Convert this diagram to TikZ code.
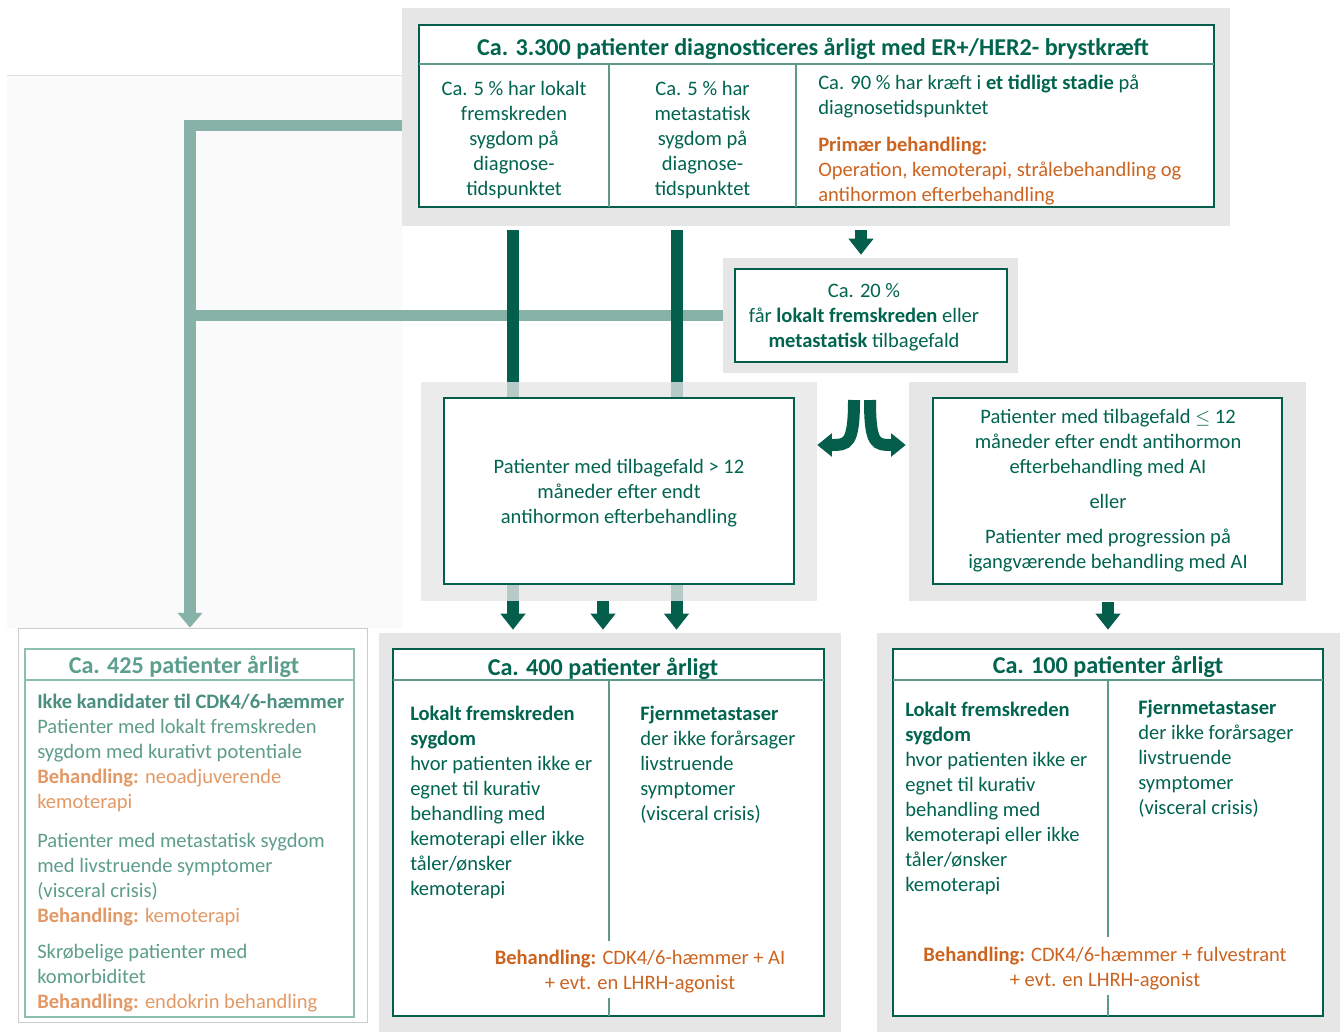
\documentclass[tikz,border=0pt]{standalone}
\usepackage{fontspec}
\setmainfont{Carlito}
\usetikzlibrary{arrows.meta,fit}
\definecolor{dg}{HTML}{00644F}
\definecolor{ag}{HTML}{035E4B}
\definecolor{lg}{HTML}{86B2A7}
\definecolor{gbox}{HTML}{E6E6E6}
\definecolor{org}{HTML}{CC6420}
\definecolor{ltitle}{HTML}{5C9F8D}
\definecolor{ltext}{HTML}{5E9D8C}
\definecolor{lbold}{HTML}{4B907F}
\definecolor{lorg}{HTML}{E39966}
\definecolor{lborder}{HTML}{8EBDB1}
\definecolor{divc}{HTML}{5E9A8B}
\begin{document}
\begin{tikzpicture}[x=0.75pt,y=-0.75pt,
  outerbox/.style={fill=gbox, draw=none, inner sep=0pt},
  innerbox/.style={fill=white, draw=ag, line width=1.3pt, inner sep=0pt},
  divider/.style={draw=divc, line width=0.9pt},
  body/.style={font=\fontsize{15.4}{18.75}\selectfont, text=dg, inner sep=0pt},
  head/.style={font=\fontsize{18.1}{22}\selectfont\bfseries, text=dg, inner sep=0pt},
  fatarrow/.style={draw=ag, line width=9pt, -{Triangle[width=18pt,length=12pt]}},
  splitarrow/.style={draw=ag, line width=9pt, -{Triangle[width=17pt,length=11pt]}},
  lgline/.style={draw=lg, line width=8.5pt, line join=miter},
]
\useasboundingbox (0,0) rectangle (1344,1032);
\fill[white] (0,0) rectangle (1344,1032);
% faint left panel
\fill[black!2] (7,75) rectangle (402,628);
\draw[black!12, line width=0.6pt] (7,75) -- (402,75);

% helper coordinates
\coordinate (ax) at (861,0);
\coordinate (lx) at (190,0);
\coordinate (ly) at (0,125.5);
\coordinate (bx1) at (513,0);
\coordinate (bx2) at (676.5,0);
\coordinate (bx3) at (603,0);
\coordinate (rx) at (1108,0);
\coordinate (sL) at (854,400);
\coordinate (sR) at (870,400);
\coordinate (sy) at (0,445);

% ---------- top box ----------
\node[outerbox, fit={(402,8) (1230,226)}] (topO) {};
\node[innerbox, fit={(419,25) (1214,207)}] (top) {};
\draw[divider] (419,64) -- (1214,64);
\draw[divider] (609,64) -- (609,207);
\draw[divider] (796,64) -- (796,207);
\node[head, anchor=base] (t0) at (813,55) {Ca. 3.300 patienter diagnosticeres årligt med ER+/HER2- brystkræft};
\node[body, align=center, anchor=base] (t1) at (514,195) {Ca. 5 \% har lokalt\\fremskreden\\sygdom på\\diagnose-\\tidspunktet};
\node[body, align=center, anchor=base] (t2) at (702.5,195) {Ca. 5 \% har\\metastatisk\\sygdom på\\diagnose-\\tidspunktet};
\node[body, align=left, anchor=base west] (t3) at (818,201) {Ca. 90 \% har kræft i \textbf{et tidligt stadie} på\\diagnosetidspunktet\\[9pt]\textcolor{org}{\textbf{Primær behandling:}}\\\textcolor{org}{Operation, kemoterapi, strålebehandling og}\\\textcolor{org}{antihormon efterbehandling}};

% ---------- Ca. 20 % box ----------
\node[outerbox, fit={(723,258) (1018,373)}] (c20O) {};
\node[innerbox, fit={(735,269) (1007,362)}] (c20) {};
\node[body, align=center, anchor=base] (c20t) at (864,347) {Ca. 20 \%\\får \textbf{lokalt fremskreden} eller\\\textbf{metastatisk} tilbagefald};
\draw[fatarrow, shorten <=3pt, shorten >=2.25pt] (topO.south -| ax) -- (c20O.north -| ax);

% ---------- bottom boxes (frames) ----------
\node[draw=black!20, line width=0.6pt, inner sep=0pt, fit={(18,628) (367,1022)}] (b425F) {};
\node[outerbox, fit={(379,633) (841,1032)}] (b400O) {};
\node[outerbox, fit={(877,633) (1340,1032)}] (b100O) {};

% ---------- light green connectors ----------
\draw[lgline, -{Triangle[width=18pt,length=11pt]}] (topO.west |- ly) -- (lx |- ly) -- (b425F.north -| lx);
\draw[lgline] (c20O.west) -- (lx |- c20O.west);

% ---------- dark bars through the middle box ----------
\draw[fatarrow, shorten <=3pt, shorten >=2.25pt] (topO.south -| bx1) -- (b400O.north -| bx1);
\draw[fatarrow, shorten <=3pt, shorten >=2.25pt] (topO.south -| bx2) -- (b400O.north -| bx2);

% ---------- middle left box ----------
\node[outerbox, fill opacity=0.8, fit={(421,382) (817,601)}] (mlO) {};
\node[innerbox, fit={(444,398) (794,584)}] (ml) {};
\node[body, align=center, anchor=base] (mlt) at (619,523) {Patienter med tilbagefald > 12\\måneder efter endt\\antihormon efterbehandling};
\draw[fatarrow, shorten >=2.25pt] (mlO.south -| bx3) -- (b400O.north -| bx3);

% ---------- middle right box ----------
\node[outerbox, fit={(909,382) (1306,601)}] (mrO) {};
\node[innerbox, fit={(933,398) (1282,584)}] (mr) {};
\node[body, align=center, anchor=base] (mrt) at (1108,568) {Patienter med tilbagefald $\leq$ 12\\måneder efter endt antihormon\\efterbehandling med AI\\[7.5pt]eller\\[7.5pt]Patienter med progression på\\igangværende behandling med AI};
\draw[fatarrow, shorten <=0.75pt, shorten >=2.25pt] (mrO.south -| rx) -- (b100O.north -| rx);

% ---------- split arrow ----------
\draw[splitarrow] (sL) .. controls +(0,45) and +(30,0) .. (mlO.east |- sy);
\draw[splitarrow, shorten >=2.25pt] (sR) .. controls +(0,45) and +(-33,0) .. (mrO.west |- sy);

% ---------- bottom left box ----------
\node[draw=lborder, line width=1.1pt, fill=white, inner sep=0pt, fit={(25,649) (354,1017)}] (b425) {};
\draw[draw=lborder, line width=0.9pt] (25,680) -- (354,680);
\node[head, text=ltitle, anchor=base] (b425h) at (184,673) {Ca. 425 patienter årligt};
\node[body, text=ltext, align=left, anchor=base west] (b425t) at (37,1008) {\textcolor{lbold}{\textbf{Ikke kandidater til CDK4/6-hæmmer}}\\Patienter med lokalt fremskreden\\sygdom med kurativt potentiale\\\textcolor{lorg}{\textbf{Behandling:} neoadjuverende}\\\textcolor{lorg}{kemoterapi}\\[10.5pt]Patienter med metastatisk sygdom\\med livstruende symptomer\\(visceral crisis)\\\textcolor{lorg}{\textbf{Behandling:} kemoterapi}\\[8.25pt]Skrøbelige patienter med\\komorbiditet\\\textcolor{lorg}{\textbf{Behandling:} endokrin behandling}};

% ---------- bottom middle box ----------
\node[innerbox, fit={(393,649) (824,1016)}] (b400) {};
\draw[divider] (393,680) -- (824,680);
\draw[divider] (609,680) -- (609,941);
\draw[divider] (609,998) -- (609,1016);
\node[head, anchor=base] (b400h) at (603,675) {Ca. 400 patienter årligt};
\node[body, align=left, anchor=base west] (b400l) at (410,895) {\textbf{Lokalt fremskreden}\\\textbf{sygdom}\\hvor patienten ikke er\\egnet til kurativ\\behandling med\\kemoterapi eller ikke\\tåler/ønsker\\kemoterapi};
\node[body, align=left, anchor=base west] (b400r) at (640,820) {\textbf{Fjernmetastaser}\\der ikke forårsager\\livstruende\\symptomer\\(visceral crisis)};
\node[body, text=org, align=center, anchor=base] (b400b) at (640,989) {\textbf{Behandling:} CDK4/6-hæmmer + AI\\+ evt. en LHRH-agonist};

% ---------- bottom right box ----------
\node[innerbox, fit={(893,649) (1323,1016)}] (b100) {};
\draw[divider] (893,680) -- (1323,680);
\draw[divider] (1108,680) -- (1108,937);
\draw[divider] (1108,995) -- (1108,1016);
\node[head, anchor=base] (b100h) at (1108,673) {Ca. 100 patienter årligt};
\node[body, align=left, anchor=base west] (b100l) at (905,891) {\textbf{Lokalt fremskreden}\\\textbf{sygdom}\\hvor patienten ikke er\\egnet til kurativ\\behandling med\\kemoterapi eller ikke\\tåler/ønsker\\kemoterapi};
\node[body, align=left, anchor=base west] (b100r) at (1138,814) {\textbf{Fjernmetastaser}\\der ikke forårsager\\livstruende\\symptomer\\(visceral crisis)};
\node[body, text=org, align=center, anchor=base] (b100b) at (1105,986) {\textbf{Behandling:} CDK4/6-hæmmer + fulvestrant\\+ evt. en LHRH-agonist};
\end{tikzpicture}
\end{document}
